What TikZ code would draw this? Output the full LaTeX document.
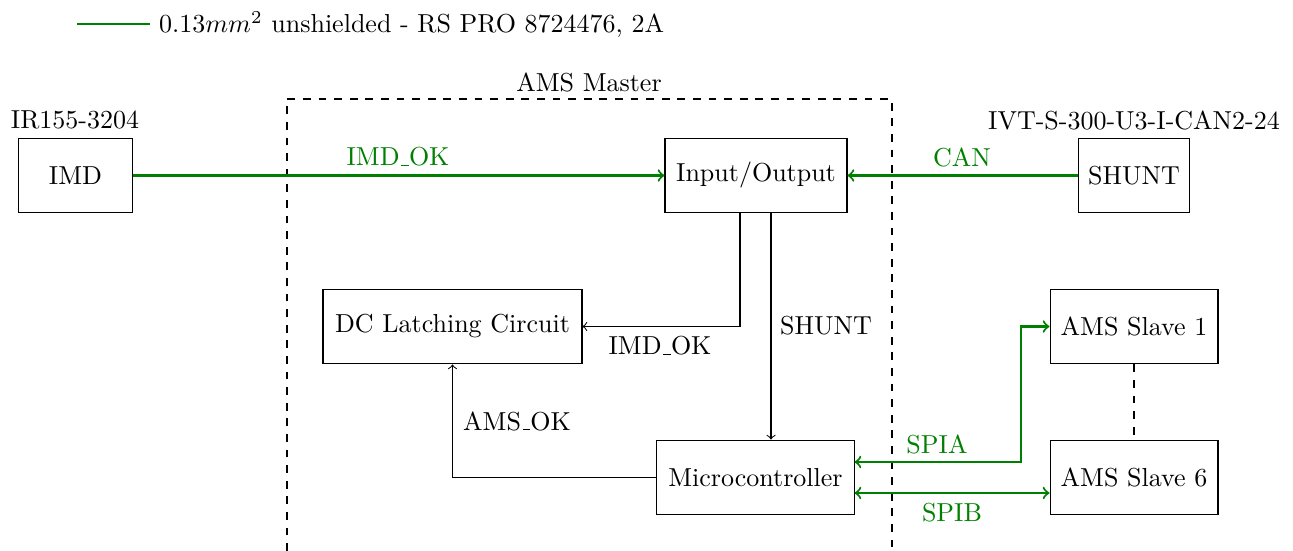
\documentclass[tikz,border=0pt]{standalone}
\newcommand{\lowbar}{\leavevmode\kern.06em\vbox{\hrule width.3em}}
\begin{document}
\begin{tikzpicture}[x=0.3846pt,y=-0.3846pt,
  box/.style={draw, minimum height=28.8pt, inner sep=0pt},
  gcol/.style={green!50!black},
  wire/.style={->, thick, green!50!black},
  sig/.style={->},
  glabel/.style={text=green!50!black}]
\useasboundingbox (0,0) rectangle (1293,551);
% legend
\coordinate (lgs) at (77,24);
\node[anchor=west] (leg) at (150,24.5) {$0.13mm^2$ unshielded - RS PRO 8724476, 2A};
\draw[gcol] (lgs) -- (lgs -| leg.west);
% master frame
\draw[dashed] (287,551) -- (287,99) -- (892,99) -- (892,551);
\node (master) at (589,82) {AMS Master};
% boxes
\node[box, minimum width=43.5pt] (imd) at (75.5,175.5) {IMD};
\node[box, minimum width=70pt] (io) at (756,175.5) {Input/Output};
\node[box, minimum width=43pt] (shunt) at (1134,175.5) {SHUNT};
\node[box, minimum width=99.6pt] (dc) at (452.5,326.5) {DC Latching Circuit};
\node[box, minimum width=75.8pt] (mcu) at (755.5,477.5) {Microcontroller};
\node[box, minimum width=64.6pt] (s1) at (1134,326.5) {AMS Slave 1};
\node[box, minimum width=64.6pt] (s6) at (1134,477.5) {AMS Slave 6};
% titles
\node (imdtitle) at (75,120) {IR155-3204};
\node (shunttitle) at (1134,120) {IVT-S-300-U3-I-CAN2-24};
% connectors
\draw[wire] (imd.east) -- (io.west);
\draw[wire] (shunt.west) -- (io.east);
\draw[sig] ([xshift=-6.15pt]io.south) |- (dc.east);
\draw[sig] ([xshift=5.77pt]io.south) -- ([xshift=5.77pt]io.south |- mcu.north);
\draw[sig] (mcu.west) -| (dc.south);
\draw[wire,<->] ([yshift=5.96pt]mcu.east) -- ++(166,0) |- (s1.west);
\draw[wire,<->] ([yshift=-5.96pt]mcu.east) -- ([yshift=-5.96pt]s6.west);
\draw[dashed] (s1.south) -- (s6.north);
% labels
\node[glabel] (l1) at (398,157) {IMD\lowbar OK};
\node[glabel] (l2) at (962,157) {CAN};
\node (l3) at (660,346) {IMD\lowbar OK};
\node (l4) at (826,326) {SHUNT};
\node (l5) at (517,421) {AMS\lowbar OK};
\node[glabel] (l6) at (937,444) {SPIA};
\node[glabel] (l7) at (952,513) {SPIB};
\end{tikzpicture}
\end{document}
